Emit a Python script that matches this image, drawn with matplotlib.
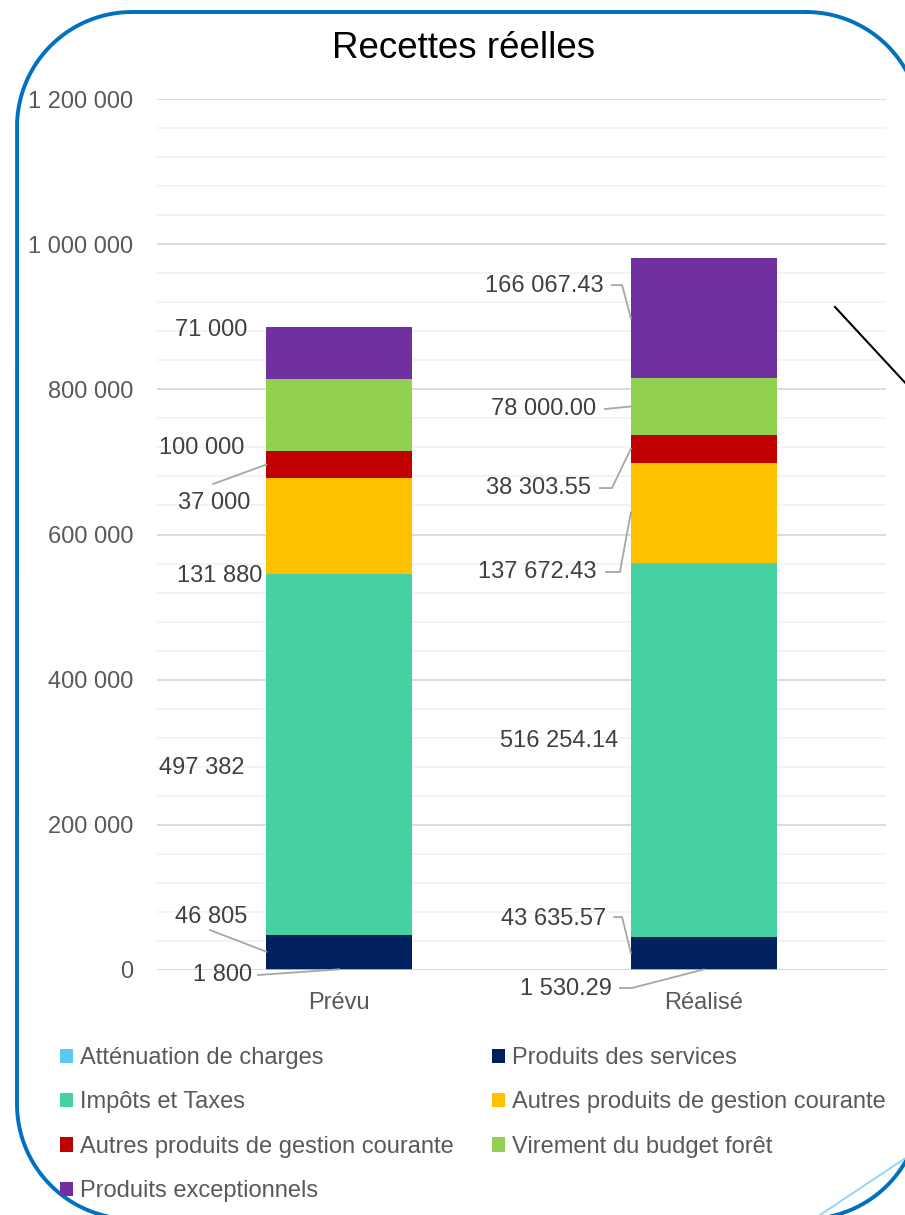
import matplotlib
matplotlib.use("Agg")
import numpy as np
import matplotlib.pyplot as plt
from matplotlib.lines import Line2D
from matplotlib.ticker import MultipleLocator, FuncFormatter

plt.rcParams['font.family'] = ['Liberation Sans', 'DejaVu Sans']

# ---------------- data ----------------
categories = ["Prévu", "Réalisé"]
series_names = [
    "Atténuation de charges",
    "Produits des services",
    "Impôts et Taxes",
    "Autres produits de gestion courante",
    "Autres produits de gestion courante",
    "Virement du budget forêt",
    "Produits exceptionnels",
]
prevu = [1800, 46805, 497382, 131880, 37000, 100000, 71000]
realise = [1530.29, 43635.57, 516254.14, 137672.43, 38303.55, 78000.00, 166067.43]
colors = ["#5BC8EF", "#002060", "#45D1A3", "#FFC000", "#C00000", "#92D050", "#7030A0"]
title = "Recettes réelles"

# ---------------- figure ----------------
W, H = 905, 1215
fig = plt.figure(figsize=(W / 100, H / 100), dpi=100)
ax = fig.add_axes([157 / W, 1 - 970 / H, (886 - 157) / W, (970 - 99) / H])

bw = 0.4
x = list(range(len(categories)))
values = [prevu, realise]
bottoms = [0.0, 0.0]
containers = []
seg_centers = []  # [series][category] -> centre y
for i, name in enumerate(series_names):
    vals = [values[c][i] for c in range(len(categories))]
    cont = ax.bar(x, vals, bw, bottom=bottoms, color=colors[i], label=name, zorder=3)
    containers.append(cont)
    seg_centers.append([bottoms[c] + vals[c] / 2 for c in range(len(categories))])
    bottoms = [bottoms[c] + vals[c] for c in range(len(categories))]

ax.set_xlim(-0.5, 1.5)
ax.set_ylim(0, 1200000)
ax.yaxis.set_major_locator(MultipleLocator(200000))
ax.yaxis.set_minor_locator(MultipleLocator(40000))
ax.yaxis.set_major_formatter(FuncFormatter(lambda v, p: f"{int(round(v)):,}".replace(",", " ")))
ax.grid(axis='y', which='major', color='#D9D9D9', linewidth=1.3, zorder=0)
ax.grid(axis='y', which='minor', color='#F2F2F2', linewidth=1.3, zorder=0)
for s in ax.spines.values():
    s.set_visible(False)
ax.tick_params(axis='y', which='both', length=0, pad=17, labelsize=17, labelcolor='#595959')
ax.tick_params(axis='x', length=0, pad=15.5, labelsize=17, labelcolor='#595959')
ax.set_xticks(x)
ax.set_xticklabels(categories)
ax.axhline(0, color='#D9D9D9', linewidth=1.3, zorder=1)

# ---------------- data labels ----------------
def fmt_int(v):
    return f"{int(round(v)):,}".replace(",", " ")

def fmt_dec(v):
    return f"{v:,.2f}".replace(",", " ")

label_col = '#404040'
leader_col = '#A6A6A6'
# text position (x, y) in data coords, right aligned; leader: start point, elbow x (or None)
prevu_layout = [
    ((-0.239, -6900), (-0.223, -6900), None, 'center'),
    ((-0.253, 73000), (-0.355, 55100), None, 'bar'),
    ((-0.259, 278300), None, None, None),
    ((-0.212, 542800), None, None, None),
    ((-0.245, 643400), (-0.346, 669600), None, 'bar'),
    ((-0.259, 719200), None, None, None),
    ((-0.253, 881700), None, None, None),
]
realise_layout = [
    ((0.748, -26200), (0.770, -24800), 0.803, 'center'),
    ((0.732, 70300), (0.754, 73000), 0.776, 'bar'),
    ((0.765, 315500), None, None, None),
    ((0.707, 548300), (0.732, 548300), 0.770, 'bar'),
    ((0.691, 664000), (0.715, 664000), 0.748, 'bar'),
    ((0.704, 772900), (0.729, 772900), None, 'bar'),
    ((0.726, 942400), (0.748, 943700), 0.776, 'bar'),
]

for c, (layout, fmt) in enumerate([(prevu_layout, fmt_int), (realise_layout, fmt_dec)]):
    for i, (tpos, start, elbow, target) in enumerate(layout):
        ax.text(tpos[0], tpos[1], fmt(values[c][i]), ha='right', va='center',
                fontsize=17, color=label_col, zorder=5, clip_on=False)
        if start is not None:
            ty = seg_centers[i][c]
            tx = x[c] if target == 'center' else x[c] - bw / 2
            xs = [start[0]]
            ys = [start[1]]
            if elbow is not None:
                xs.append(elbow)
                ys.append(start[1])
            xs.append(tx)
            ys.append(ty)
            ax.plot(xs, ys, color=leader_col, linewidth=1.3, zorder=4, clip_on=False)

# ---------------- title ----------------
fig.text(464 / W, 1 - 48 / H, title, ha='center', va='center', fontsize=26.5, color='black')

# ---------------- legend ----------------
order = [0, 2, 4, 6, 1, 3, 5]
leg = fig.legend([containers[k] for k in order], [series_names[k] for k in order],
                 ncol=2, loc='upper left', bbox_to_anchor=(60 / W, 1 - 1047 / H),
                 frameon=False, fontsize=17, labelcolor='#595959',
                 handlelength=0.55, handleheight=0.55, handletextpad=0.28,
                 columnspacing=1.64, labelspacing=0.95, borderpad=0, borderaxespad=0)

# ---------------- slide decorations ----------------
def rounded_rect(left, top, right, bottom, r, n=40):
    pts = []
    corners = [
        (right - r, top + r, -90, 0),      # top-right (image y down)
        (right - r, bottom - r, 0, 90),    # bottom-right
        (left + r, bottom - r, 90, 180),   # bottom-left
        (left + r, top + r, 180, 270),     # top-left
    ]
    for cx, cy, a0, a1 in corners:
        a = np.radians(np.linspace(a0, a1, n))
        pts.extend(zip(cx + r * np.cos(a), cy + r * np.sin(a)))
    pts.append(pts[0])
    xs = np.array([p[0] for p in pts]) / 100.0
    ys = (H - np.array([p[1] for p in pts])) / 100.0
    return xs, ys

fx, fy = rounded_rect(17, 12, 921, 1219, 115)
fig.lines.append(Line2D(fx, fy, transform=fig.dpi_scale_trans, color='#0070C0',
                        linewidth=2.8, solid_joinstyle='round'))
px = lambda v: v / 100.0
fig.lines.append(Line2D([px(835), px(910)], [px(H - 307), px(H - 388)],
                        transform=fig.dpi_scale_trans, color='black', linewidth=1.5))
fig.lines.append(Line2D([px(910), px(820)], [px(H - 1155), px(H - 1215)],
                        transform=fig.dpi_scale_trans, color='#8DD5F2', linewidth=1.3))

fig.savefig("out.png", dpi=100)
